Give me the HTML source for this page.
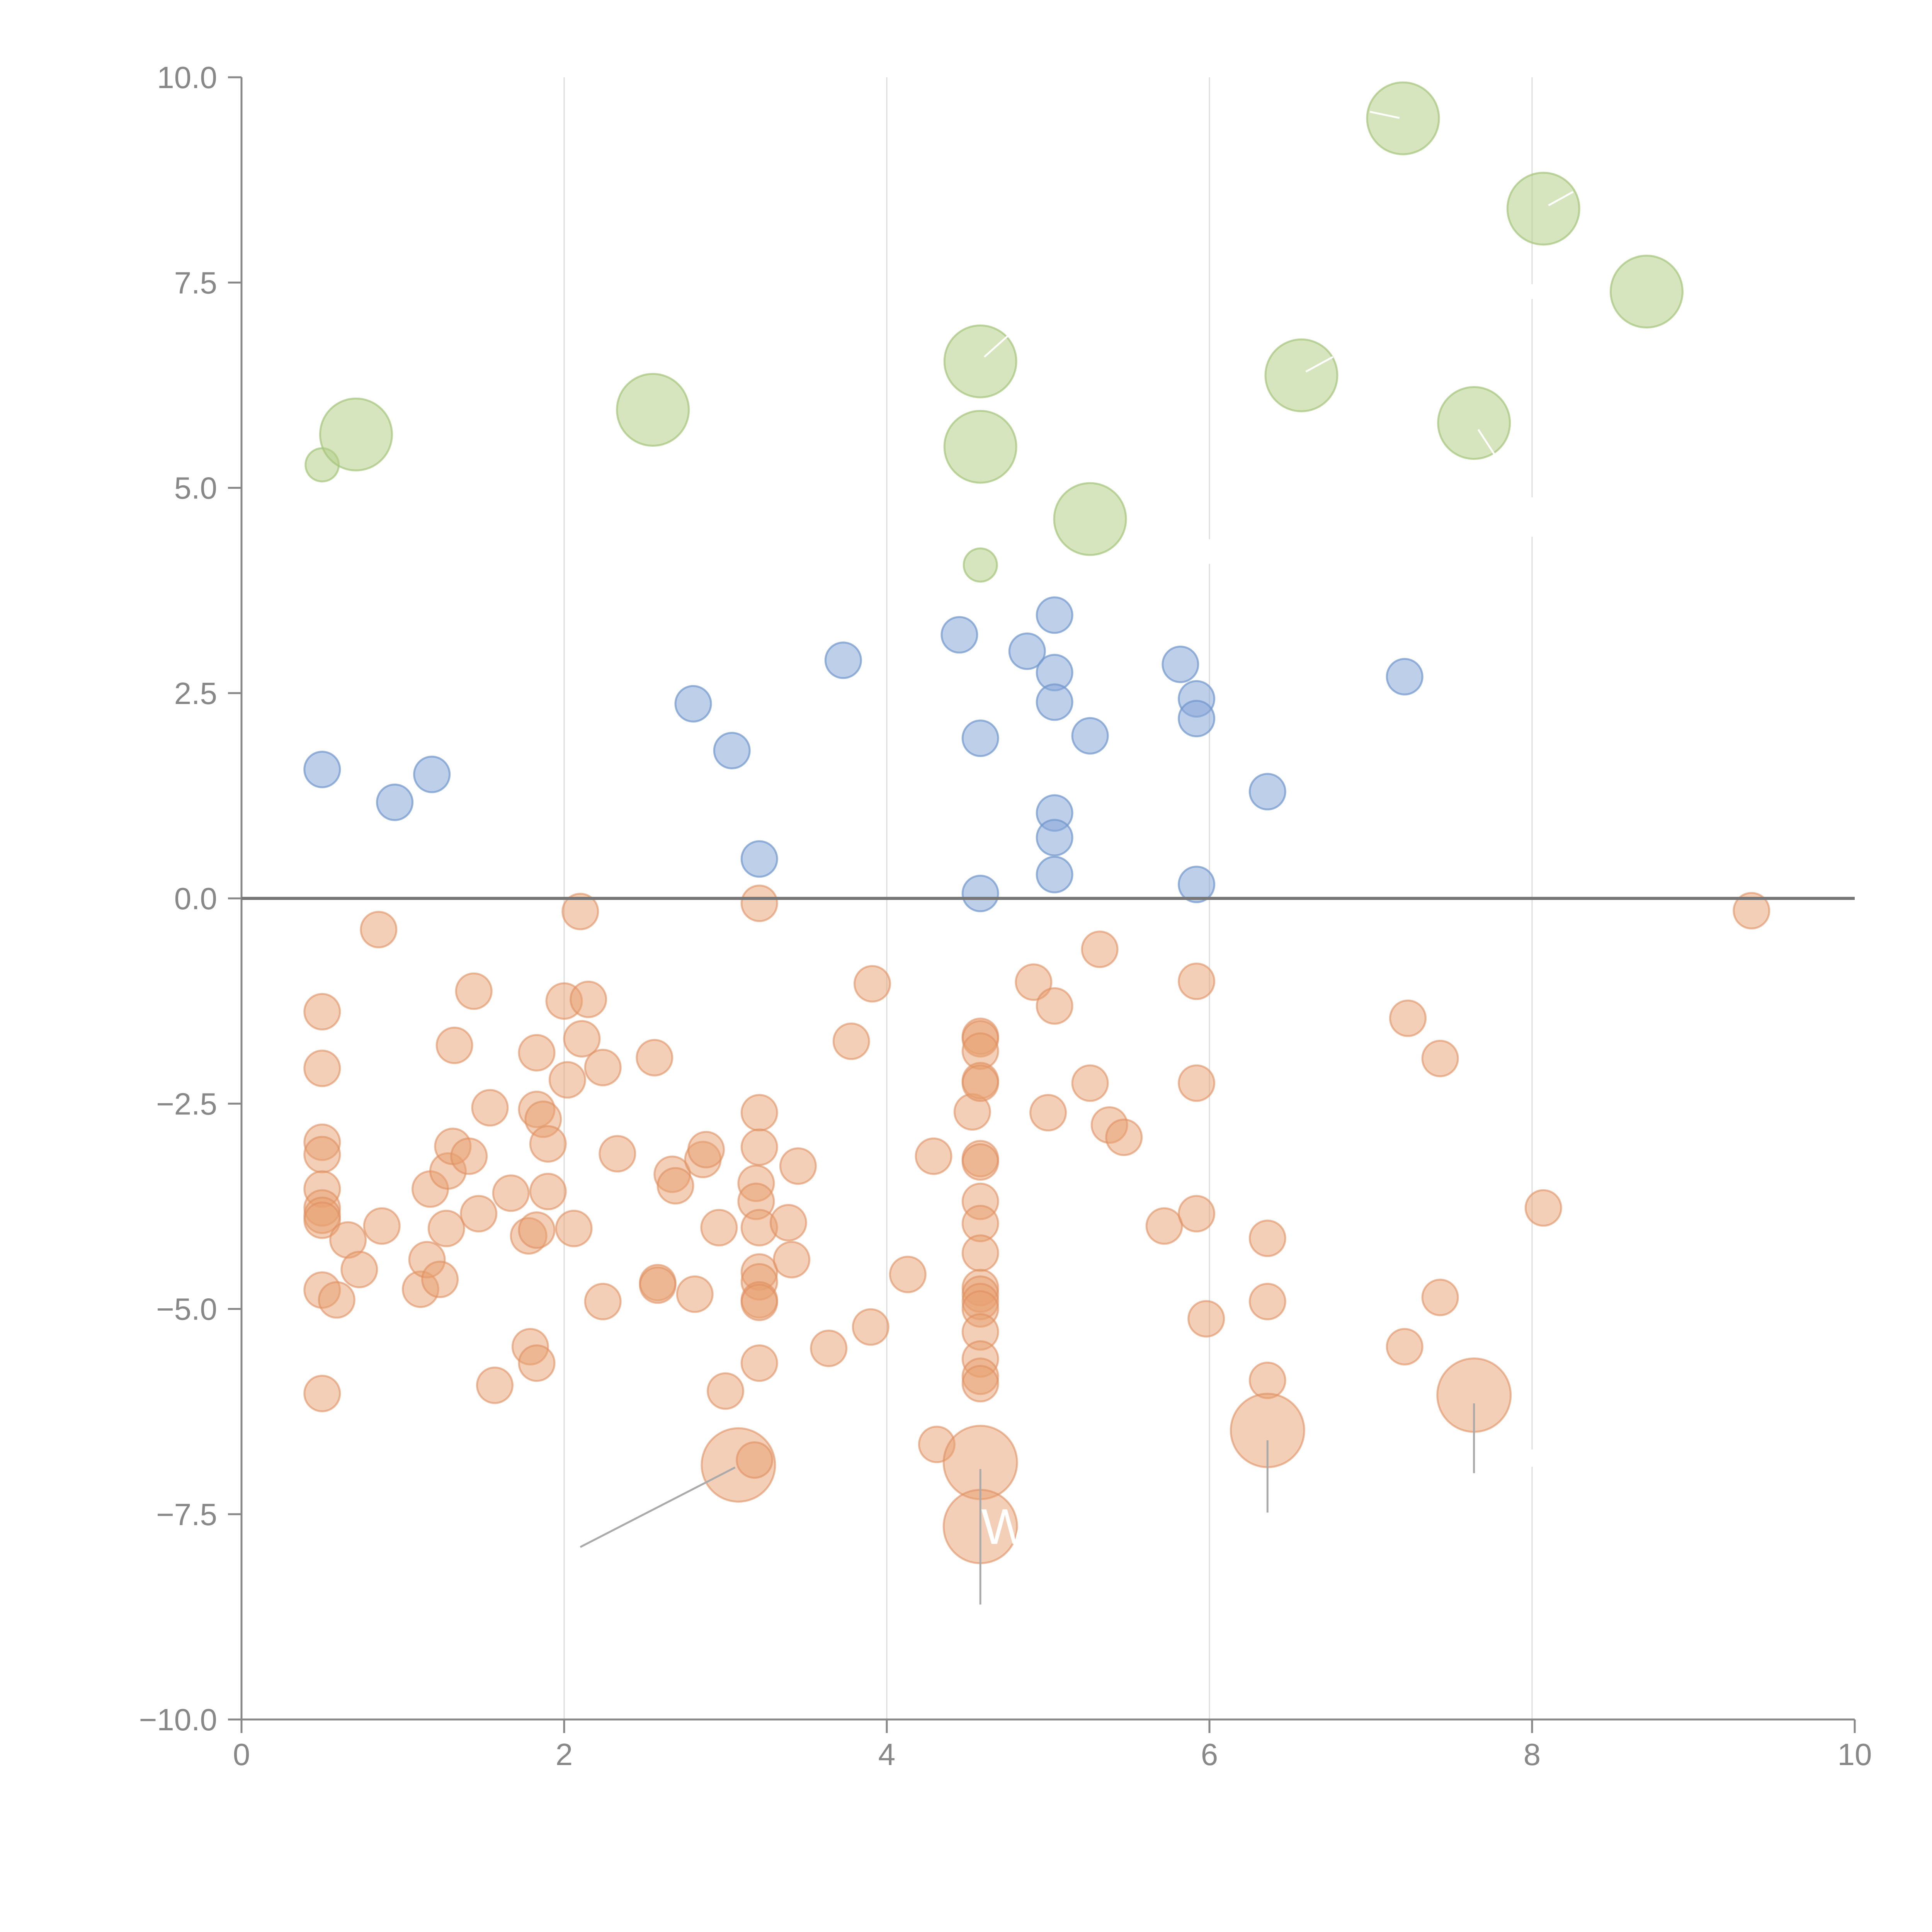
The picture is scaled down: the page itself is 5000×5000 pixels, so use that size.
<!DOCTYPE html>
<html><head><meta charset="utf-8"><style>html,body{margin:0;padding:0;background:#fff}svg{display:block}</style></head>
<body>
<svg id="chart" width="5000" height="5000" viewBox="0 0 5000 5000" xmlns="http://www.w3.org/2000/svg" font-family="Liberation Sans, sans-serif">
<g id="grid"></g>
<g id="annot"></g>
<g id="marks"></g>
<g id="axes"></g>
<g id="deco" transform="translate(0.2,2.3) scale(3.188)" stroke="#fff" stroke-width="1.5" fill="#fff">
<line x1="1112" y1="90" x2="1136" y2="95"/>
<line x1="1257" y1="166" x2="1277" y2="155"/>
<line x1="799" y1="289" x2="818" y2="272"/>
<line x1="1060" y1="301" x2="1082" y2="289"/>
<line x1="1200" y1="348" x2="1213" y2="368"/>
<rect x="1240" y="230" width="6" height="12" stroke="none"/>
<rect x="1240" y="403" width="6" height="32" stroke="none"/>
<rect x="1240" y="1176" width="6" height="14" stroke="none"/>
<rect x="978" y="437" width="6" height="20" stroke="none"/>
</g>
</svg>
<script>
const xTicks=[0,2,4,6,8,10];
const xTickLabels=["0","2","4","6","8","10"];
const yTicks=[10,7.5,5,2.5,0,-2.5,-5,-7.5,-10];
const yTickLabels=["10.0","7.5","5.0","2.5","0.0","\u22122.5","\u22125.0","\u22127.5","\u221210.0"];
const greenX=[0.5,0.71,2.55,4.58,4.58,4.58,5.26,6.57,7.2,7.64,8.07,8.71];
const greenY=[5.28,5.65,5.95,6.54,5.5,4.06,4.62,6.37,9.5,5.79,8.4,7.39];
const greenBig=[0,1,1,1,1,0,1,1,1,1,1,1];
const blueX=[0.5,0.95,1.18,2.8,3.04,3.21,3.73,4.45,4.58,4.58,4.87,5.04,5.04,5.04,5.04,5.04,5.04,5.26,5.82,5.92,5.92,5.92,6.36,7.21];
const blueY=[1.57,1.17,1.51,2.37,1.8,0.48,2.9,3.21,1.95,0.06,3.01,3.45,2.75,2.39,1.04,0.74,0.29,1.98,2.85,2.43,2.19,0.17,1.3,2.7];
const orangeX=[0.85,2.1,3.21,9.36,0.5,0.5,0.5,0.5,0.5,0.5,0.5,0.5,0.5,0.5,0.59,0.66,0.73,0.87,1.11,1.17,1.15,1.23,1.27,1.28,1.31,1.32,1.41,1.44,1.47,1.54,1.57,1.67,1.78,1.79,1.83,1.83,1.83,1.83,1.87,1.9,1.9,2.0,2.02,2.06,2.11,2.15,2.24,2.24,2.33,2.56,2.58,2.58,2.67,2.69,2.81,2.86,2.88,2.96,3.0,3.08,3.18,3.21,3.21,3.19,3.19,3.21,3.21,3.21,3.21,3.21,3.21,3.39,3.41,3.45,3.64,3.78,3.9,3.91,4.13,4.29,4.31,4.53,4.58,4.58,4.58,4.58,4.58,4.58,4.58,4.58,4.58,4.58,4.58,4.58,4.58,4.58,4.58,4.58,4.58,4.58,4.58,4.58,4.91,5.0,5.04,5.26,5.32,5.38,5.47,5.72,5.92,5.92,5.92,5.98,6.36,6.36,6.36,6.36,7.21,7.23,7.43,7.43,7.64,8.07];
const orangeY=[-0.38,-0.16,-0.06,-0.15,-1.38,-2.07,-2.97,-3.12,-3.54,-3.77,-3.86,-3.92,-4.77,-6.03,-4.89,-4.16,-4.52,-3.99,-4.76,-3.54,-4.4,-4.64,-4.02,-3.32,-3.02,-1.79,-3.14,-1.13,-3.84,-2.55,-5.93,-3.59,-4.11,-5.46,-4.04,-5.66,-1.88,-2.57,-2.69,-2.99,-3.57,-1.25,-2.21,-4.02,-1.71,-1.23,-2.06,-4.91,-3.11,-1.94,-4.68,-4.71,-3.36,-3.5,-4.82,-3.18,-3.06,-4.01,-6.0,-6.9,-6.84,-2.61,-3.03,-3.47,-3.69,-4.01,-4.55,-4.67,-4.89,-4.92,-5.66,-3.95,-4.4,-3.26,-5.48,-1.74,-5.22,-1.04,-4.58,-3.14,-6.65,-2.6,-6.87,-7.65,-1.68,-1.71,-1.86,-2.22,-2.25,-3.17,-3.21,-3.69,-3.96,-4.32,-4.74,-4.82,-4.91,-5.0,-5.28,-5.61,-5.82,-5.91,-1.02,-2.61,-1.31,-2.25,-0.62,-2.76,-2.91,-3.99,-1.01,-2.25,-3.84,-5.12,-4.14,-4.91,-5.87,-6.48,-5.46,-1.46,-1.95,-4.86,-6.05,-3.77];
const orangeBigIdx=[59,82,83,117,122];
const leaderFrom=[[2.1,-7.9],[4.58,-6.95],[6.36,-6.6],[7.64,-6.15]];
const leaderTo=[[3.06,-6.93],[4.58,-8.6],[6.36,-7.48],[7.64,-7.0]];

const L=625,R=4800,T=200,B=4450;
const xs=v=>L+(v-0)/10*(R-L);
const ys=v=>B-(v+10)/20*(B-T);
const NS="http://www.w3.org/2000/svg";
function mk(tag,parent,attrs){const e=document.createElementNS(NS,tag);for(const k in attrs)e.setAttribute(k,attrs[k]);parent.appendChild(e);return e;}
const grid=document.getElementById('grid'),axes=document.getElementById('axes'),marks=document.getElementById('marks'),annot=document.getElementById('annot');

xTicks.forEach((t,i)=>{
  if(t>0&&t<10){const g=mk('line',grid,{x1:xs(t),x2:xs(t),y1:T,y2:B,stroke:'#dcdcdc','stroke-width':3});
  
  }
  const tk=mk('line',axes,{x1:xs(t),x2:xs(t),y1:B,y2:B+35,stroke:'#888','stroke-width':5});
  
  
  const tx=mk('text',axes,{x:xs(t),y:B+118,'text-anchor':'middle','font-size':80,fill:'#888'});
  tx.textContent=xTickLabels[i];
  
  
});
yTicks.forEach((t,i)=>{
  const tk=mk('line',axes,{x1:L-35,x2:L,y1:ys(t),y2:ys(t),stroke:'#888','stroke-width':5});
  
  
  const tx=mk('text',axes,{x:L-63,y:ys(t)+28,'text-anchor':'end','font-size':80,fill:'#888'});
  tx.textContent=yTickLabels[i];
  
  
});
const ya=mk('line',axes,{x1:L,x2:L,y1:T,y2:B,stroke:'#888','stroke-width':5});


const xa=mk('line',axes,{x1:L,x2:R,y1:B,y2:B,stroke:'#888','stroke-width':5});


const zl=mk('line',axes,{x1:L,x2:R,y1:ys(0),y2:ys(0),stroke:'#777','stroke-width':8});



leaderFrom.forEach((p,i)=>{
  const l=mk('line',annot,{x1:xs(p[0]),y1:ys(p[1]),x2:xs(leaderTo[i][0]),y2:ys(leaderTo[i][1]),stroke:'#aaa','stroke-width':5});
  
  
});

orangeX.forEach((x,i)=>{
  const big=orangeBigIdx.includes(i);
  const c=mk('circle',marks,{cx:xs(x),cy:ys(orangeY[i]),r:big?95:46,fill:'#e8a070','fill-opacity':0.5,stroke:'#e09060','stroke-opacity':0.6,'stroke-width':5});
  
  
});
blueX.forEach((x,i)=>{
  const c=mk('circle',marks,{cx:xs(x),cy:ys(blueY[i]),r:46,fill:'#88a8d8','fill-opacity':0.55,stroke:'#6f95cc','stroke-opacity':0.7,'stroke-width':5});
  
  
});
greenX.forEach((x,i)=>{
  const c=mk('circle',marks,{cx:xs(x),cy:ys(greenY[i]),r:greenBig[i]?93:43,fill:'#b4cf88','fill-opacity':0.55,stroke:'#a4c47a','stroke-opacity':0.7,'stroke-width':5});
  
  
});
const w=mk('text',annot,{x:xs(4.58)+2,y:ys(-7.65)+45,'font-size':130,fill:'#fff'});
w.textContent='W';


const svg=document.getElementById('chart');
svg.appendChild(annot);
svg.appendChild(document.getElementById('deco'));
</script>
</body></html>
